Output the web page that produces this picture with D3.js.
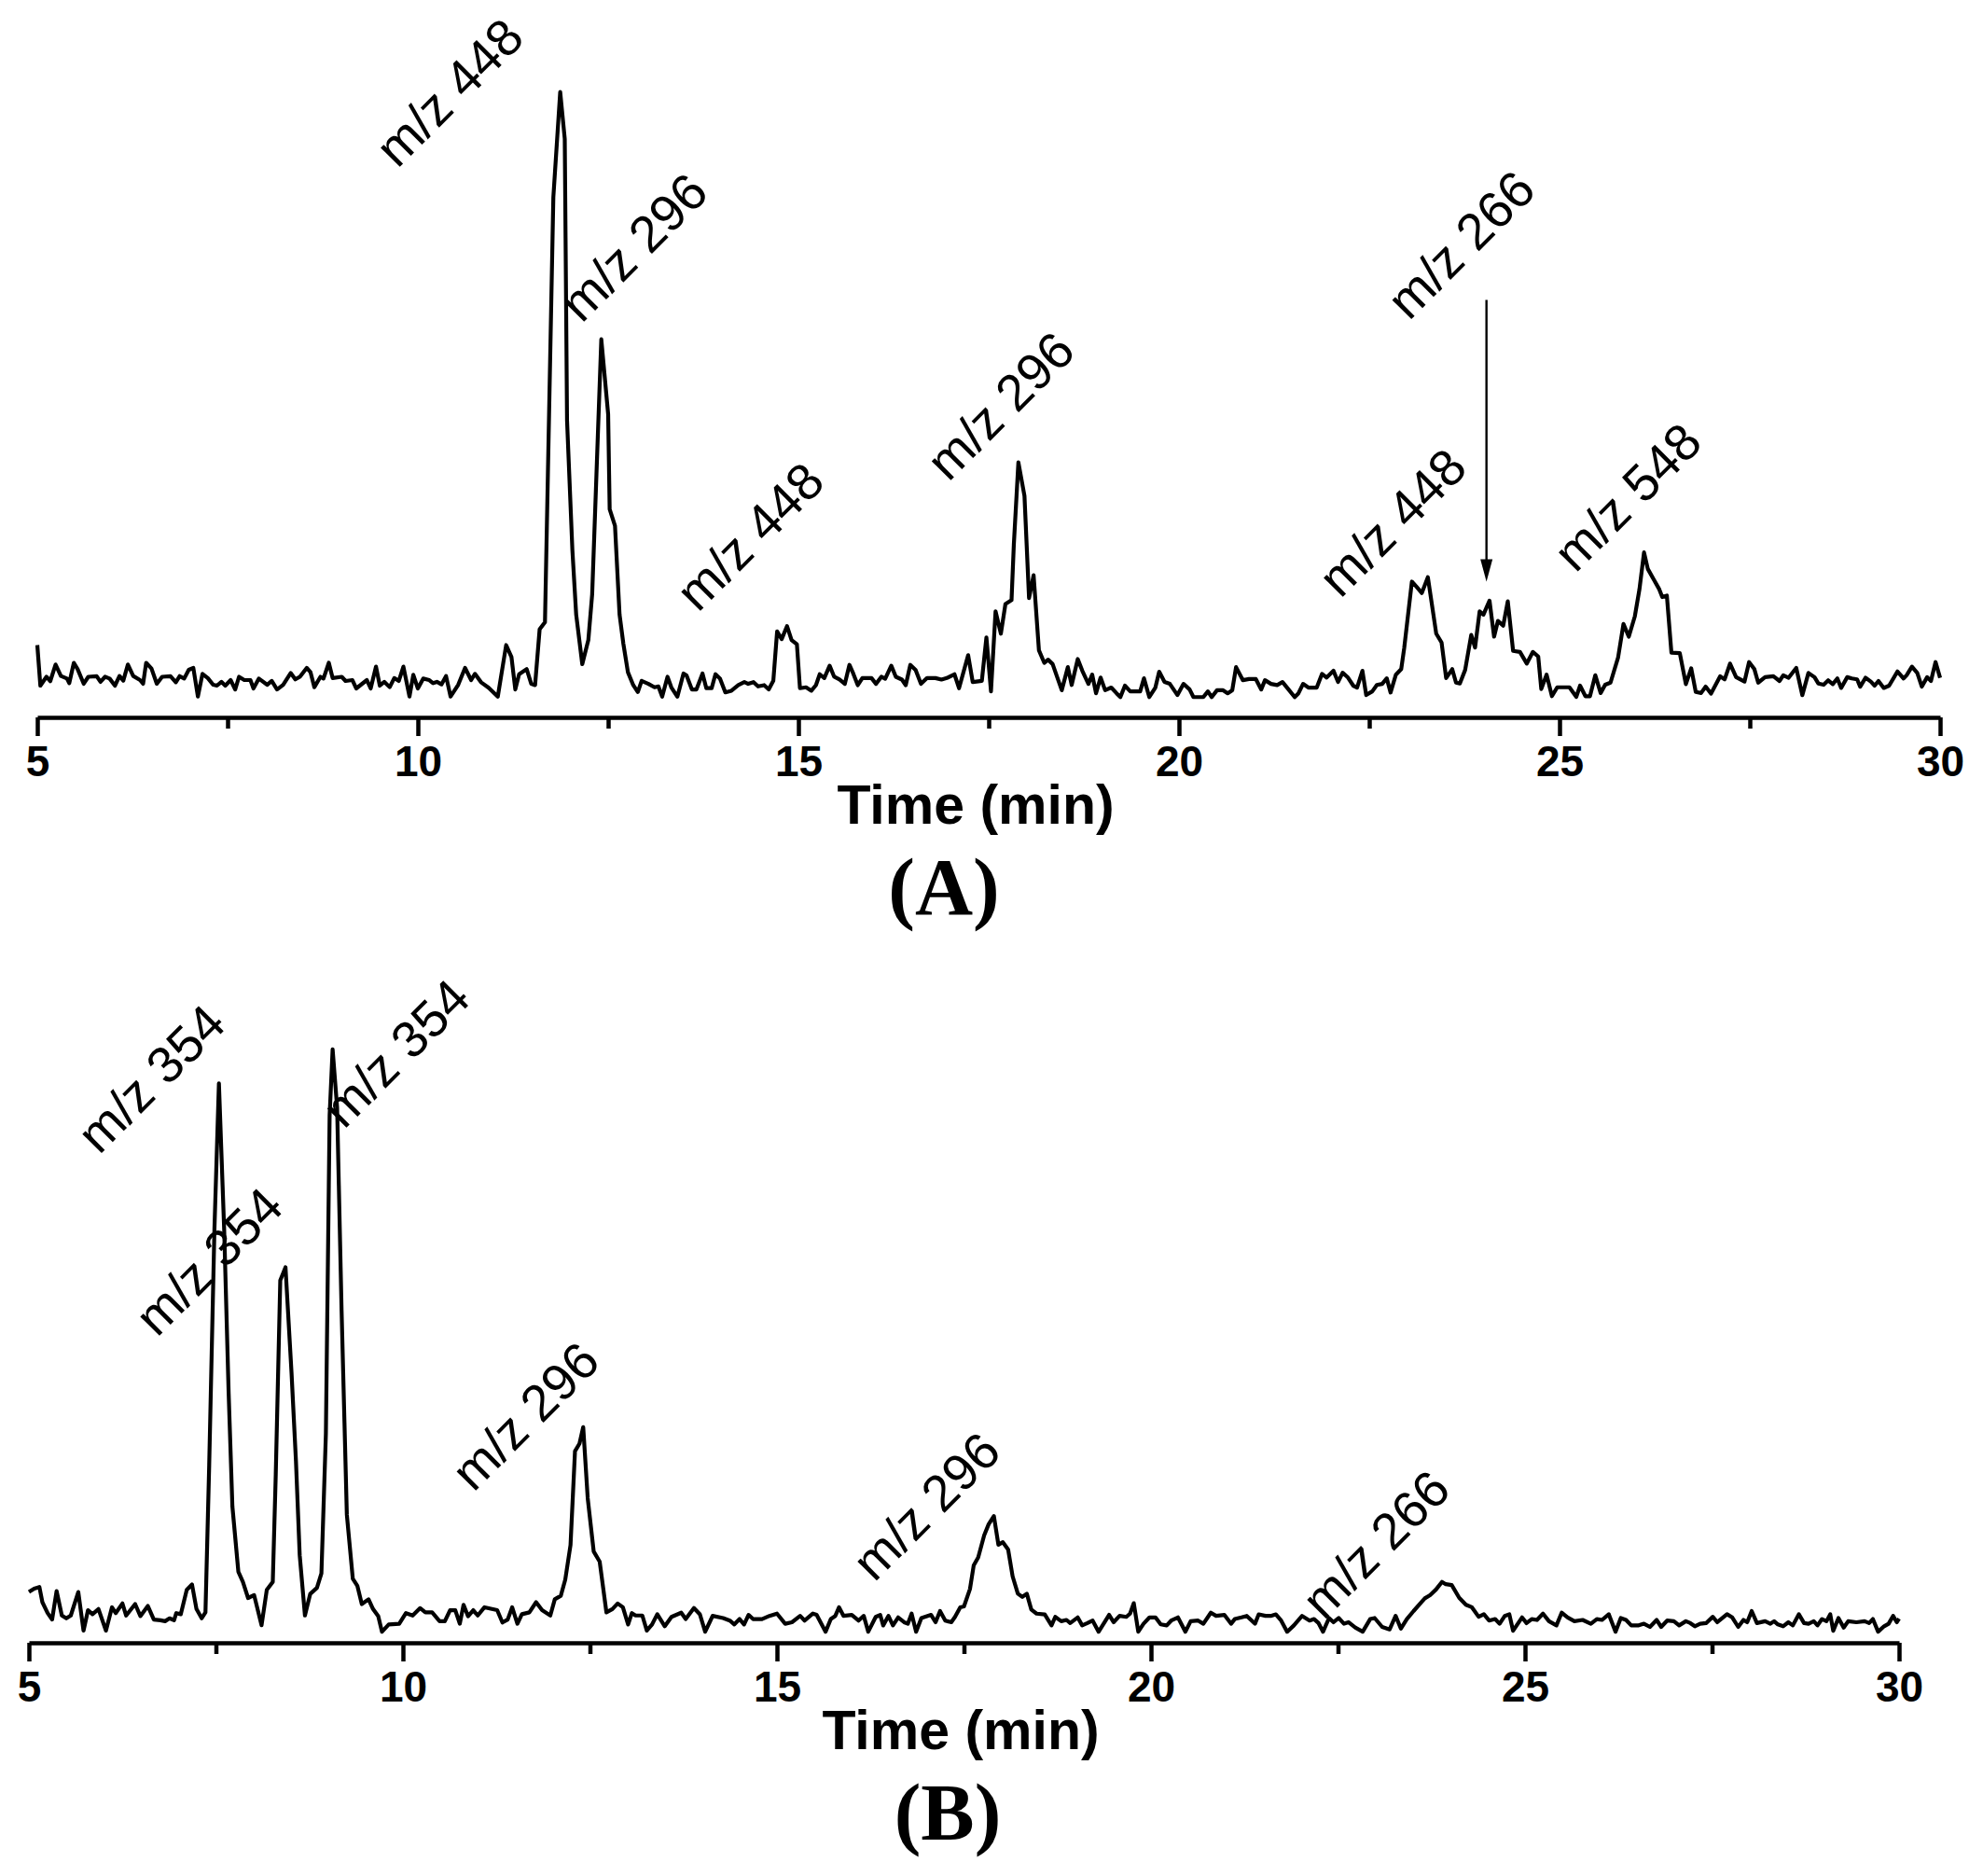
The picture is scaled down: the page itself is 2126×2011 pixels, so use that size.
<!DOCTYPE html>
<html>
<head>
<meta charset="utf-8">
<script src="https://cdnjs.cloudflare.com/ajax/libs/d3/7.8.5/d3.min.js"></script>
<style>
  body { margin: 0; background: #fff; }
  svg { display: block; }
</style>
</head>
<body>
<svg id="chart"></svg>
<script>
// x axis ticks (min)
const TIME_TICKS = [5, 10, 15, 20, 25, 30];
const TIME_MINOR = [7.5, 12.5, 17.5, 22.5, 27.5];

// chromatogram (A): [time (min), intensity (a.u.)]
const traceA = [
  [5.0,57],[5.04,25],[5.12,32],[5.17,28.5],[5.24,41.7],[5.31,32.6],[5.39,30.6],[5.42,27],[5.48,43],[5.53,38],
  [5.61,26.5],[5.67,32],[5.78,32.5],[5.83,28],[5.89,32],[5.95,30.6],[6.02,25],[6.08,32.6],[6.13,29],[6.19,41.7],
  [6.26,32.6],[6.35,29.4],[6.39,26.5],[6.43,43],[6.5,38.5],[6.57,26.5],[6.64,32],[6.75,32.5],[6.82,27.7],[6.87,32.5],
  [6.93,30.6],[6.99,37.5],[7.05,39],[7.11,16.4],[7.17,34.3],[7.24,31],[7.31,25.7],[7.36,25],[7.42,28],[7.47,25],
  [7.54,29.4],[7.6,22],[7.65,32],[7.72,29.4],[7.8,29.4],[7.84,22.8],[7.91,30.6],[8.02,25.7],[8.08,28.7],[8.15,22],
  [8.23,25.7],[8.33,35],[8.39,30],[8.45,32],[8.54,39],[8.59,35.5],[8.64,23.8],[8.72,32],[8.76,30.6],[8.83,43],
  [8.88,31],[9.0,32],[9.05,28.7],[9.14,29.4],[9.19,22.8],[9.33,29.4],[9.38,22.8],[9.45,40],[9.5,25],[9.56,28],
  [9.63,23.8],[9.69,31],[9.75,28.7],[9.81,40],[9.89,16.4],[9.94,33.6],[10.0,22.8],[10.07,30.6],[10.15,29.4],[10.2,27],
  [10.25,28],[10.31,26],[10.37,32.6],[10.43,16.4],[10.53,25.7],[10.62,39],[10.7,29.4],[10.75,34.3],[10.83,27.7],[10.93,23.3],
  [11.05,16.3],[11.16,57],[11.23,47.5],[11.28,22],[11.33,34],[11.43,38],[11.49,26.4],[11.54,25.4],[11.6,69.5],[11.67,75],
  [11.78,410],[11.87,493],[11.93,456],[11.96,234],[12.03,132],[12.08,81],[12.16,42],[12.24,61],[12.29,97],[12.41,298],
  [12.5,239],[12.52,164],[12.59,151],[12.65,81],[12.7,58],[12.76,35.6],[12.83,25.4],[12.89,20],[12.94,28.8],[13.03,26.4],
  [13.11,23.7],[13.16,24.4],[13.21,16.3],[13.28,32],[13.33,23.7],[13.41,16.3],[13.49,34.6],[13.53,33],[13.6,22],[13.66,22],
  [13.74,34.6],[13.79,23],[13.86,23],[13.91,34],[13.97,30.5],[14.04,19.7],[14.12,21],[14.21,25.4],[14.29,27.8],[14.34,26.4],
  [14.41,27.8],[14.47,24.4],[14.55,25.4],[14.61,22],[14.67,28.8],[14.72,67.8],[14.78,61.7],[14.85,71.9],[14.91,61],[14.98,57.6],
  [15.02,23],[15.1,23.7],[15.17,21],[15.23,25.4],[15.28,34],[15.34,31],[15.41,40.7],[15.47,32],[15.54,29.8],[15.61,26.4],
  [15.67,41.4],[15.72,34.6],[15.78,25.4],[15.84,31],[15.96,31],[16.02,26.4],[16.09,32],[16.14,30.5],[16.22,40.7],[16.28,32],
  [16.36,29.8],[16.41,25.4],[16.47,41.4],[16.54,37.3],[16.61,26.4],[16.69,31],[16.8,31],[16.88,29.8],[16.95,31],[17.05,34],
  [17.11,23],[17.23,49],[17.29,27.8],[17.41,28.8],[17.47,63],[17.53,20.5],[17.59,83.6],[17.66,66],[17.72,89.4],[17.8,92.4],
  [17.83,136],[17.89,201],[17.97,174.5],[18.03,94],[18.09,112],[18.16,52.8],[18.23,43],[18.28,45.5],[18.34,42],[18.46,21.4],
  [18.54,39.6],[18.59,25.5],[18.67,46],[18.73,36.7],[18.81,26.4],[18.86,33.7],[18.91,19],[18.97,31.4],[19.03,21.4],[19.11,23.5],
  [19.18,19],[19.23,16],[19.29,25],[19.36,20.5],[19.49,20.5],[19.54,30.8],[19.61,16],[19.69,23.5],[19.74,36],[19.81,27.9],
  [19.88,26.4],[19.98,17.6],[20.06,26.4],[20.14,22],[20.19,16],[20.32,16],[20.38,20.5],[20.43,16],[20.5,21.4],[20.58,21.4],
  [20.64,19],[20.7,21.4],[20.75,39.6],[20.84,29.3],[20.92,30.2],[21.01,30.2],[21.08,22],[21.13,29.3],[21.21,26.4],[21.29,25.5],
  [21.36,27.9],[21.44,22],[21.52,16],[21.57,19],[21.63,26.4],[21.7,23.5],[21.81,23.5],[21.88,34.3],[21.94,31.4],[22.03,36.7],
  [22.09,27.9],[22.15,35.2],[22.22,31.4],[22.29,25],[22.34,23.5],[22.41,36.7],[22.46,17.6],[22.54,20.5],[22.6,25.5],[22.67,26.4],
  [22.73,30.8],[22.78,19.6],[22.85,33.7],[22.92,38],[22.96,55],[23.06,107],[23.12,103],[23.19,98],[23.27,110.5],[23.38,66],
  [23.45,59],[23.51,31],[23.59,38],[23.64,27.4],[23.69,26.7],[23.76,37.4],[23.84,65],[23.89,55],[23.95,83.5],[24.0,81],
  [24.08,92],[24.14,63.6],[24.19,76],[24.26,72.3],[24.32,91.5],[24.39,52.4],[24.48,51.6],[24.57,42.4],[24.65,51.6],[24.72,48],
  [24.76,22.4],[24.83,33.7],[24.9,16.7],[24.97,23.7],[25.13,23.7],[25.22,16.2],[25.27,25],[25.34,16.7],[25.4,16.7],[25.47,33.2],
  [25.54,19.2],[25.6,25.7],[25.67,27.4],[25.77,47.4],[25.84,73.6],[25.91,63.6],[25.99,79.8],[26.05,101],[26.11,130],[26.16,117],
  [26.24,108.5],[26.31,101],[26.35,94.8],[26.41,96],[26.47,51],[26.58,50.6],[26.66,26.2],[26.73,38.7],[26.79,20],[26.86,19.2],
  [26.92,24.2],[26.99,18.7],[27.11,32.4],[27.17,30],[27.24,42.4],[27.32,31.7],[27.43,28.2],[27.49,43.6],[27.56,38],[27.61,27.4],
  [27.7,31.7],[27.81,32.4],[27.89,28.7],[27.94,33.2],[28.01,31.2],[28.11,39],[28.19,17.5],[28.27,35],[28.35,31.7],[28.4,26.7],
  [28.47,25.7],[28.53,29.2],[28.59,26.2],[28.65,30.7],[28.7,23.2],[28.78,31.7],[28.84,30.7],[28.91,30],[28.95,24.2],[29.02,31.2],
  [29.09,28.2],[29.14,25],[29.19,28.7],[29.26,23.2],[29.33,25],[29.44,36.2],[29.52,30.7],[29.56,33.2],[29.63,40],[29.7,35],
  [29.76,24.2],[29.83,31.7],[29.88,28.7],[29.94,43.6],[30.0,31.2]
];

// chromatogram (B): [time (min), intensity (a.u.)]
const traceB = [
  [5.0,40],[5.07,42.7],[5.14,44],[5.18,32],[5.25,23.4],[5.31,18.3],[5.37,40.8],[5.44,21.5],[5.5,19.3],[5.56,21.5],
  [5.66,40],[5.73,9.6],[5.79,25.7],[5.85,22.5],[5.93,26.6],[6.03,9.6],[6.11,28],[6.16,23.4],[6.25,31],[6.3,21.5],
  [6.42,30.5],[6.49,21],[6.59,29],[6.67,18.3],[6.76,17.7],[6.82,17],[6.88,19.3],[6.94,17.7],[6.97,23.4],[7.03,22.5],
  [7.11,41.7],[7.18,46],[7.24,26.6],[7.31,19.3],[7.36,24],[7.41,140],[7.48,326],[7.54,441],[7.61,326],[7.67,197],
  [7.72,107.5],[7.8,56],[7.86,48],[7.93,35.3],[8.01,37.6],[8.11,13.8],[8.18,41.7],[8.26,48],[8.3,133],[8.36,285.7],
  [8.43,296],[8.51,213.5],[8.57,143],[8.62,69],[8.69,21.5],[8.76,38.5],[8.85,43.3],[8.91,54.6],[8.97,165],[9.02,415.7],
  [9.06,467.7],[9.12,422],[9.18,261.6],[9.25,101],[9.33,50.4],[9.39,45],[9.45,30.5],[9.54,34.3],[9.6,26.6],[9.67,20.9],
  [9.72,8.7],[9.81,14.4],[9.95,15],[10.04,23.4],[10.13,21.5],[10.23,27.3],[10.3,24],[10.39,24],[10.49,17],[10.56,17],
  [10.63,25.7],[10.7,25.7],[10.76,15],[10.81,29.9],[10.87,20.9],[10.94,25.7],[11.0,21.5],[11.09,28],[11.19,26.6],[11.26,25.7],
  [11.33,16],[11.4,18.3],[11.46,28],[11.53,15],[11.59,22.5],[11.69,24],[11.78,32],[11.86,25.7],[11.97,21.5],[12.03,34.3],
  [12.11,37],[12.17,49.8],[12.24,77],[12.3,151],[12.36,157],[12.41,170],[12.47,114],[12.55,72],[12.63,64],[12.72,24],
  [12.8,26.6],[12.87,31],[12.94,28],[13.01,14.4],[13.06,23.4],[13.11,21.5],[13.2,21.5],[13.26,9.6],[13.33,14.4],[13.4,22.5],
  [13.5,13],[13.59,20.4],[13.72,23.7],[13.78,18.7],[13.89,27.4],[13.97,22.4],[14.04,8.7],[14.14,21.2],[14.28,19.5],[14.37,17.5],
  [14.43,14.5],[14.5,18.7],[14.56,14.5],[14.62,22],[14.68,18.7],[14.8,18.7],[14.9,21.2],[15.0,23],[15.11,15],[15.2,16.2],
  [15.31,21.2],[15.37,17.5],[15.48,23],[15.53,22],[15.65,8.7],[15.72,18.7],[15.78,21.2],[15.83,28],[15.89,21.2],[16.0,22],
  [16.09,17.5],[16.16,21.2],[16.22,8.7],[16.32,20.4],[16.38,22],[16.42,13.7],[16.49,21.2],[16.55,13.7],[16.62,20],[16.7,16.2],
  [16.75,15],[16.8,23],[16.86,8.7],[16.93,19.5],[17.06,22],[17.12,16.2],[17.18,25],[17.25,17.5],[17.33,16.2],[17.38,20.4],
  [17.45,28],[17.5,28.7],[17.58,42.4],[17.63,61],[17.69,67.3],[17.77,84.8],[17.83,93.5],[17.9,99.8],[17.96,77.3],[18.02,79.3],
  [18.09,73.6],[18.15,52.4],[18.22,38.7],[18.28,36.2],[18.34,38.7],[18.4,26.2],[18.47,23],[18.58,22.4],[18.67,13.7],[18.72,20.4],
  [18.8,17],[18.87,18],[18.92,15.5],[19.02,20],[19.08,13.7],[19.15,15.5],[19.22,17.5],[19.3,8.7],[19.38,16.2],[19.44,22],
  [19.5,16.2],[19.58,21.2],[19.67,20.4],[19.72,23],[19.77,31.2],[19.83,8.7],[19.9,15],[19.98,20],[20.06,20],[20.13,14.5],
  [20.21,13.7],[20.27,17.5],[20.36,20],[20.46,8.7],[20.53,17],[20.63,17.5],[20.7,15],[20.8,23.7],[20.87,21.2],[20.98,22],
  [21.07,15],[21.12,18.7],[21.21,20],[21.28,21.2],[21.39,15],[21.44,22.4],[21.53,21.2],[21.6,21.2],[21.67,22.4],[21.74,17.5],
  [21.82,8.7],[21.91,13.7],[22.02,21.2],[22.12,17.5],[22.18,18.7],[22.24,15.5],[22.3,8.7],[22.38,19.5],[22.44,16.2],[22.51,19.5],
  [22.58,15],[22.64,16.2],[22.73,12],[22.83,8.7],[22.93,18.7],[22.99,19.5],[23.09,12.5],[23.19,10.5],[23.27,21.2],[23.34,11.2],
  [23.42,18.7],[23.51,25],[23.66,35],[23.73,37.5],[23.81,42],[23.89,48],[23.94,46.2],[24.02,45.5],[24.12,35.5],[24.21,30],
  [24.29,28],[24.38,20.5],[24.45,22.5],[24.52,17.5],[24.6,18.7],[24.66,15],[24.73,21.2],[24.79,22.5],[24.84,9.5],[24.96,20],
  [25.02,15.5],[25.09,18.7],[25.16,18],[25.24,23],[25.32,17],[25.42,13.7],[25.49,23.7],[25.57,20],[25.66,17],[25.77,18],
  [25.88,15],[25.96,18.7],[26.03,18],[26.12,22.5],[26.21,8.7],[26.28,19.5],[26.35,18],[26.42,13.7],[26.52,13.7],[26.59,15],
  [26.67,12.5],[26.76,18],[26.82,12.5],[26.9,17.5],[26.99,17],[27.06,13.7],[27.15,17],[27.21,15.5],[27.27,13],[27.34,15],
  [27.42,15.5],[27.51,20.5],[27.57,16.2],[27.7,22.5],[27.77,20],[27.85,12.5],[27.92,18],[27.97,16.2],[28.03,25],[28.1,15.5],
  [28.21,17],[28.28,15],[28.33,17],[28.38,14.5],[28.45,13],[28.52,16.2],[28.58,13.7],[28.66,22.5],[28.73,15.5],[28.79,15],
  [28.86,17],[28.91,13.7],[28.97,18.7],[29.03,17],[29.08,22.5],[29.12,9.5],[29.19,19.5],[29.26,12],[29.32,17],[29.43,16.2],
  [29.54,17],[29.6,15.5],[29.65,18.7],[29.72,8.7],[29.8,13],[29.86,15],[29.92,21.2],[29.97,16.2],[30.0,19]
];

// peak annotations: text, time and intensity where the label starts
const labelsA = [
  { text: 'm/z 448', t: 9.73, v: 432 },
  { text: 'm/z 296', t: 12.15, v: 310 },
  { text: 'm/z 448', t: 13.68, v: 82 },
  { text: 'm/z 296', t: 16.97, v: 185 },
  { text: 'm/z 448', t: 22.12, v: 93 },
  { text: 'm/z 266', t: 23.02, v: 312 },
  { text: 'm/z 548', t: 25.21, v: 113 }
];
const labelsB = [
  { text: 'm/z 354', t: 5.94, v: 384 },
  { text: 'm/z 354', t: 6.71, v: 240 },
  { text: 'm/z 354', t: 9.21, v: 404 },
  { text: 'm/z 296', t: 10.94, v: 118 },
  { text: 'm/z 296', t: 16.3, v: 47 },
  { text: 'm/z 266', t: 22.31, v: 17 }
];
// arrow in (A) pointing at the m/z 266 peak
const arrowsA = [{ t: 24.04, from: 329, to: 107 }];

const WIDTH = 2126, HEIGHT = 2011;
const Y_PX_PER_UNIT = 1.36;
const SANS = 'Liberation Sans, Arimo, Arial, Helvetica, sans-serif';
const SERIF = 'Liberation Serif, Tinos, Times New Roman, Times, serif';

const svg = d3.select('#chart')
  .attr('width', WIDTH)
  .attr('height', HEIGHT)
  .attr('viewBox', `0 0 ${WIDTH} ${HEIGHT}`);

svg.append('rect').attr('width', WIDTH).attr('height', HEIGHT).attr('fill', '#fff');

const panels = [
  { trace: traceA, labels: labelsA, arrows: arrowsA, x0: 40, x1: 2080, axisY: 769,
    titleX: 1046, name: '(A)', nameX: 1012 },
  { trace: traceB, labels: labelsB, arrows: [], x0: 31, x1: 2036, axisY: 1761,
    titleX: 1030, name: '(B)', nameX: 1016 }
];

panels.forEach(p => drawPanel(p));

function drawPanel(p) {
  const x = d3.scaleLinear().domain([5, 30]).range([p.x0, p.x1]);
  const y = d3.scaleLinear().domain([0, 500]).range([p.axisY, p.axisY - 500 * Y_PX_PER_UNIT]);
  const g = svg.append('g');

  // minor ticks
  const minor = g.append('g')
    .attr('transform', `translate(0,${p.axisY})`)
    .call(d3.axisBottom(x).tickValues(TIME_MINOR).tickSize(12).tickSizeOuter(0).tickFormat(''));
  minor.select('.domain').remove();
  minor.selectAll('line').attr('stroke', '#000').attr('stroke-width', 4.5);

  // major ticks + labels
  const major = g.append('g')
    .attr('transform', `translate(0,${p.axisY})`)
    .call(d3.axisBottom(x).tickValues(TIME_TICKS).tickSize(20).tickSizeOuter(0).tickFormat(d3.format('d')));
  major.select('.domain').attr('stroke', '#000').attr('stroke-width', 4.5);
  major.selectAll('line').attr('stroke', '#000').attr('stroke-width', 4.5);
  major.selectAll('text')
    .attr('y', 63)
    .attr('dy', null)
    .attr('fill', '#000')
    .attr('font-family', SANS)
    .attr('font-size', 46)
    .attr('font-weight', 'bold');
  major.attr('font-family', SANS).attr('font-size', 46);

  // trace
  const line = d3.line().x(d => x(d[0])).y(d => y(d[1]));
  g.append('path')
    .datum(p.trace)
    .attr('d', line)
    .attr('fill', 'none')
    .attr('stroke', '#000')
    .attr('stroke-width', 4.2)
    .attr('stroke-linejoin', 'round');

  // peak labels
  g.selectAll('.peak-label')
    .data(p.labels)
    .enter()
    .append('text')
    .classed('peak-label', true)
    .attr('x', d => x(d.t))
    .attr('y', d => y(d.v))
    .attr('transform', d => `rotate(-45,${x(d.t)},${y(d.v)})`)
    .attr('font-family', SANS)
    .attr('font-size', 55)
    .text(d => d.text);

  // arrows
  p.arrows.forEach(a => {
    const ax = x(a.t), yTop = y(a.from), yTip = y(a.to);
    g.append('line')
      .attr('x1', ax).attr('x2', ax)
      .attr('y1', yTop).attr('y2', yTip - 20)
      .attr('stroke', '#000').attr('stroke-width', 2.4);
    g.append('path')
      .attr('d', `M${ax - 6.5},${yTip - 24}L${ax + 6.5},${yTip - 24}L${ax},${yTip}Z`)
      .attr('fill', '#000');
  });

  // axis title
  g.append('text')
    .attr('x', p.titleX)
    .attr('y', p.axisY + 114)
    .attr('text-anchor', 'middle')
    .attr('font-family', SANS)
    .attr('font-size', 59)
    .attr('font-weight', 'bold')
    .text('Time (min)');

  // panel name
  g.append('text')
    .attr('x', p.nameX)
    .attr('y', p.axisY + 211)
    .attr('text-anchor', 'middle')
    .attr('font-family', SERIF)
    .attr('font-size', 86)
    .attr('font-weight', 'bold')
    .text(p.name);
}
</script>
</body>
</html>
